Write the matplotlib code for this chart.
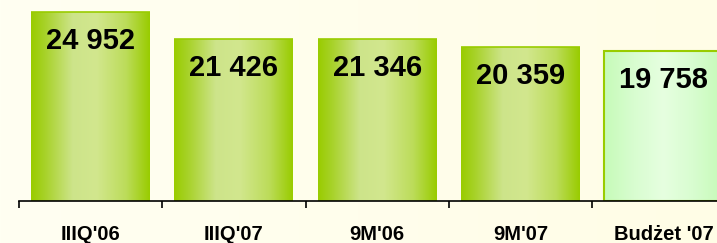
import numpy as np
import matplotlib
matplotlib.use("Agg")
import matplotlib.pyplot as plt
from matplotlib.colors import LinearSegmentedColormap

categories = ["IIIQ'06", "IIIQ'07", "9M'06", "9M'07", "Budżet '07"]
values = [24952, 21426, 21346, 20359, 19758]
value_labels = ["24 952", "21 426", "21 346", "20 359", "19 758"]

plt.rcParams['font.family'] = ['Liberation Sans', 'DejaVu Sans']

W, H = 717, 243
fig = plt.figure(figsize=(W / 100, H / 100), dpi=100)

# background gradient
bg = fig.add_axes([0, 0, 1, 1])
bg.set_axis_off()
bgcmap = LinearSegmentedColormap.from_list("bg", ["#fffff2", "#fffde6"])
grad = np.linspace(0, 1, 256).reshape(1, -1)
bg.imshow(grad, aspect='auto', cmap=bgcmap, extent=[0, 1, 0, 1])
bg.set_xlim(0, 1); bg.set_ylim(0, 1)

step = 143.3
ax = fig.add_axes([19 / W, 42 / H, 5 * step / W, 201 / H])
ax.patch.set_alpha(0)
ax.set_xlim(-0.5, 4.5)
ax.set_ylim(0, 26550)

green = LinearSegmentedColormap.from_list(
    "g", [(0, "#99cc00"), (0.12, "#a8d22a"), (0.35, "#cde48a"), (0.55, "#d2e78e"),
          (0.8, "#bcdc5a"), (1, "#99cc00")])
mint = LinearSegmentedColormap.from_list(
    "m", [(0, "#c6fbb8"), (0.25, "#d8fdd0"), (0.5, "#e6ffe0"), (0.75, "#d8fdd0"), (1, "#c6fbb8")])

bars = ax.bar(range(len(values)), values, width=0.83, color='none', edgecolor='none', zorder=2)
hgrad = np.linspace(0, 1, 256).reshape(1, -1)
for i, b in enumerate(bars):
    x0, w, h = b.get_x(), b.get_width(), b.get_height()
    cmap = mint if i == 4 else green
    im = ax.imshow(hgrad, aspect='auto', cmap=cmap, extent=[x0, x0 + w, 0, h], zorder=1)
    im.set_clip_path(b)
    if i == 4:
        b.set_edgecolor("#99cc00")
        b.set_linewidth(1.5)
    else:
        ax.plot([x0, x0 + w], [h, h], color="#99cc00", lw=1.2, zorder=3, solid_capstyle='butt')
    ax.annotate(value_labels[i], (i, h), xytext=(0, -29), textcoords='offset pixels',
                ha='center', va='center', fontsize=21, fontweight='bold', color='black', zorder=4)

ax.set_xlim(-0.5, 4.5)
ax.set_ylim(0, 26550)
for s in ['top', 'right', 'left']:
    ax.spines[s].set_visible(False)
ax.spines['bottom'].set_linewidth(1.2)
ax.spines['bottom'].set_zorder(5)
ax.set_yticks([])
ax.set_xticks(np.arange(-0.5, 5, 1), minor=True)
ax.set_xticks(range(len(categories)))
ax.set_xticklabels(categories, fontsize=14.5, fontweight='bold')
ax.tick_params(axis='x', which='major', length=0, pad=17.5)
ax.tick_params(axis='x', which='minor', length=5, width=1.2, direction='out')

fig.savefig("out.png", dpi=100)
